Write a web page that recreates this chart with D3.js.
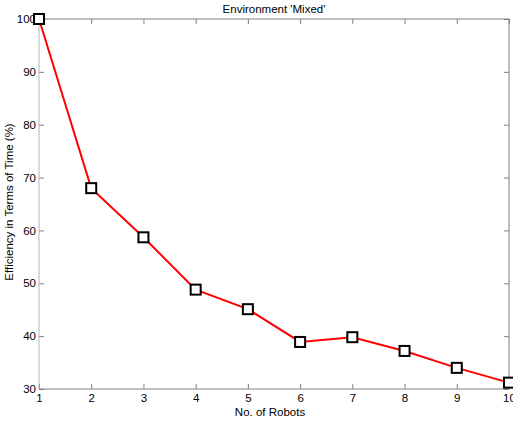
<!DOCTYPE html>
<html>
<head>
<meta charset="utf-8">
<script src="https://cdn.jsdelivr.net/npm/d3@7"></script>
<style>
  body { margin: 0; background: #fff; }
  text { font-family: "Liberation Sans", Arial, sans-serif; }
</style>
</head>
<body>
<div id="chart"></div>
<script>
var robots = [1, 2, 3, 4, 5, 6, 7, 8, 9, 10];
var efficiency = [100, 68.0, 58.7, 48.8, 45.1, 38.9, 39.8, 37.2, 34.0, 31.2];
var xTicks = [1, 2, 3, 4, 5, 6, 7, 8, 9, 10];
var yTicks = [30, 40, 50, 60, 70, 80, 90, 100];

var svgWidth = 513;
var svgHeight = 422;
var margin = { top: 19, right: 4, bottom: 33, left: 39 };
var width = svgWidth - margin.left - margin.right;
var height = svgHeight - margin.top - margin.bottom;

var svg = d3.select("#chart").append("svg")
    .attr("width", svgWidth)
    .attr("height", svgHeight);

var chartGroup = svg.append("g")
    .attr("transform", `translate(${margin.left}, ${margin.top})`);

var x = d3.scaleLinear().domain([1, 10]).range([0, width]);
var y = d3.scaleLinear().domain([30, 100]).range([height, 0]);

var axisColor = "#808080";

// bottom axis with inward ticks
var bottomAxis = d3.axisBottom(x).tickValues(xTicks).tickSize(-5).tickPadding(5).tickFormat(d3.format("d"));
var xAxis = chartGroup.append("g")
    .attr("transform", `translate(0, ${height})`)
    .call(bottomAxis);

// top mirror ticks
var topAxis = d3.axisTop(x).tickValues(xTicks).tickSize(-5).tickFormat("");
var xTop = chartGroup.append("g").call(topAxis);

var leftAxis = d3.axisLeft(y).tickValues(yTicks).tickSize(-5).tickPadding(3);
var yAxis = chartGroup.append("g").call(leftAxis);

var rightAxis = d3.axisRight(y).tickValues(yTicks).tickSize(-5).tickFormat("");
var yRight = chartGroup.append("g")
    .attr("transform", `translate(${width}, 0)`)
    .call(rightAxis);

[xAxis, xTop, yAxis, yRight].forEach(function(g) {
    g.select(".domain").attr("stroke", axisColor).attr("d", null);
    g.selectAll(".tick line").attr("stroke", axisColor);
    g.selectAll(".tick text").attr("fill", "#000").attr("font-size", "11.5px");
});

// frame lines
chartGroup.append("line").attr("x1", 0).attr("x2", width).attr("y1", 0).attr("y2", 0).attr("stroke", axisColor);
chartGroup.append("line").attr("x1", 0).attr("x2", width).attr("y1", height).attr("y2", height).attr("stroke", axisColor);
chartGroup.append("line").attr("x1", width).attr("x2", width).attr("y1", 0).attr("y2", height).attr("stroke", axisColor);
chartGroup.append("line").attr("x1", 0).attr("x2", 0).attr("y1", 0).attr("y2", height).attr("stroke", "#b4b4b4");

var data = robots.map(function(r, i) { return { x: r, y: efficiency[i] }; });

var line = d3.line().x(d => x(d.x)).y(d => y(d.y));

chartGroup.append("path")
    .datum(data)
    .attr("fill", "none")
    .attr("stroke", "#ff0000")
    .attr("stroke-width", 2)
    .attr("d", line);

var s = 10;
chartGroup.selectAll(".marker")
    .data(data)
    .enter()
    .append("rect")
    .classed("marker", true)
    .attr("x", d => x(d.x) - s / 2)
    .attr("y", d => y(d.y) - s / 2)
    .attr("width", s)
    .attr("height", s)
    .attr("fill", "#fff")
    .attr("stroke", "#000")
    .attr("stroke-width", 2);

svg.append("text")
    .attr("x", 274)
    .attr("y", 13)
    .attr("text-anchor", "middle")
    .attr("font-size", "11.5px")
    .text("Environment 'Mixed'");

svg.append("text")
    .attr("x", 270)
    .attr("y", 416)
    .attr("text-anchor", "middle")
    .attr("font-size", "11.5px")
    .text("No. of Robots");

svg.append("text")
    .attr("transform", `translate(13, 202) rotate(-90)`)
    .attr("text-anchor", "middle")
    .attr("font-size", "11.5px")
    .text("Efficiency in Terms of Time (%)");
</script>
</body>
</html>
